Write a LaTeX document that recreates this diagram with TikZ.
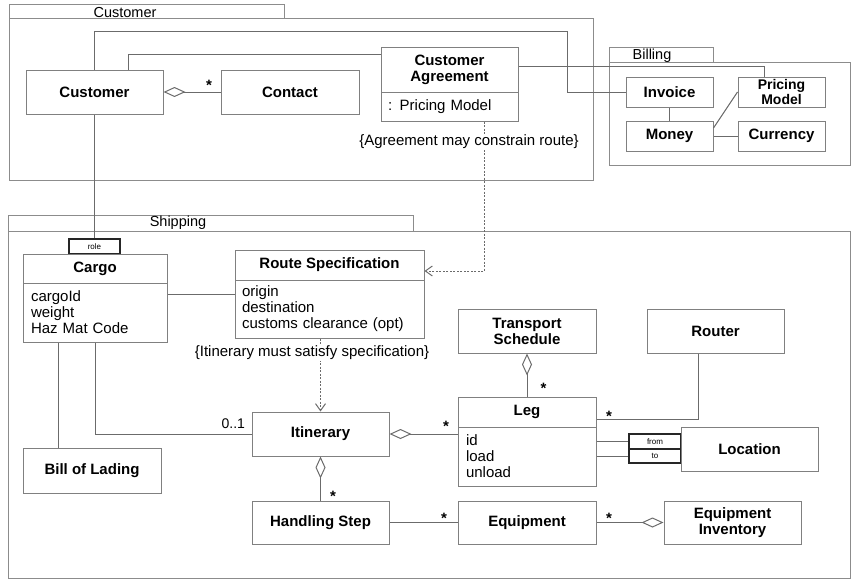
\documentclass[tikz,border=0pt]{standalone}
\usepackage{fontspec}
\setmainfont{Liberation Sans}
\usetikzlibrary{arrows.meta,positioning}
\definecolor{linegray}{gray}{0.42}
\definecolor{boxgray}{gray}{0.5}
\definecolor{pkggray}{gray}{0.55}

\begin{document}
\begin{tikzpicture}[x=1pt, y=-1pt,
      >={Straight Barb[length=7pt, width=10pt]},
      class/.style={
        draw=boxgray,
        fill=white,
        line width=1pt,
        font=\fontsize{15}{16}\selectfont\bfseries,
        align=center,
        inner sep=0pt
      },
      attrs/.style={
        draw=boxgray,
        fill=white,
        line width=1pt,
        font=\fontsize{15}{16}\selectfont,
        align=left,
        inner ysep=0pt
      },
      qualifier/.style={
        draw=black!85,
        fill=white,
        line width=1.4pt,
        font=\fontsize{8}{8}\selectfont,
        minimum width=52pt,
        inner sep=0pt
      },
      package/.style={draw=pkggray, line width=1pt},
      assoc/.style={draw=linegray, line width=1pt},
      aggregation/.style={
        assoc,
        -{Diamond[open, length=22pt, width=10pt]}
      },
      dependency/.style={
        ->,
        draw=linegray,
        line width=1pt,
        dash pattern=on 2pt off 1.5pt
      },
      note/.style={fill=white, font=\fontsize{15}{16}\selectfont, inner sep=1pt},
      mult/.style={font=\fontsize{14}{14}\selectfont, inner sep=0pt},
      star/.style={mult, font=\fontsize{15}{15}\selectfont\bfseries},
      tablabel/.style={font=\fontsize{14.5}{14.5}\selectfont, inner sep=0pt},
    ]

    \useasboundingbox (0, 0) rectangle (858, 586);

    % packages
    \draw [package] (9, 5) rectangle (284, 19);
    \draw [package] (9, 19) rectangle (593, 180);
    \node [tablabel] (customerpkg) at (125, 12.5) {Customer};

    \draw [package] (609, 48) rectangle (713, 62);
    \draw [package] (609, 62) rectangle (850, 165);
    \node [tablabel] (billingpkg) at (652, 55.5) {Billing};

    \draw [package] (8, 215) rectangle (413, 231);
    \draw [package] (8, 231) rectangle (850, 578);
    \node [tablabel] (shippingpkg) at (178, 223) {Shipping};

    % customer
    \node [class, minimum width=137pt, minimum height=44pt] (customer) at (94.5, 92) {Customer};
    \node [class, minimum width=138pt, minimum height=44pt] (contact) at (290, 92) {Contact};
    \node [class, minimum width=137pt, minimum height=44pt] (agreement) at (449.5, 70) {Customer\\Agreement};
    \node [attrs, minimum width=137pt, minimum height=29pt, text width=123pt, inner xsep=7pt]
          (agreementattr) at (449.5, 106.5) {: Pricing Model};

    % billing
    \node [class, minimum width=87pt, minimum height=30pt] (invoice) at (669.5, 92) {Invoice};
    \node [class, minimum width=87pt, minimum height=30pt, font=\fontsize{14}{13}\selectfont\bfseries]
          (pricing) at (781.5, 92) {Pricing\\Model};
    \node [class, minimum width=87pt, minimum height=30pt] (money) at (669.5, 136) {Money};
    \node [class, minimum width=87pt, minimum height=30pt] (currency) at (781.5, 136) {Currency};

    % shipping
    \node [qualifier, minimum width=51pt, minimum height=15pt] (role) at (94.5, 246.5) {role};
    \node [class, minimum width=144pt, minimum height=29pt] (cargo) at (95, 268.5) {Cargo};
    \node [attrs, minimum width=144pt, minimum height=59pt, text width=128pt, inner xsep=8pt]
          (cargoattr) at (95, 312.5) {cargoId\\weight\\Haz Mat Code};
    \node [class, minimum width=189pt, minimum height=30pt] (route) at (329.5, 265) {Route Specification};
    \node [attrs, minimum width=189pt, minimum height=58pt, text width=175pt, inner xsep=7pt]
          (routeattr) at (329.5, 309) {origin\\destination\\customs clearance (opt)};
    \node [class, minimum width=138pt, minimum height=44pt] (transport) at (527, 331) {Transport\\Schedule};
    \node [class, minimum width=137pt, minimum height=44pt] (router) at (715.5, 331) {Router};
    \node [class, minimum width=138pt, minimum height=30pt] (leg) at (527, 412) {Leg};
    \node [attrs, minimum width=138pt, minimum height=59pt, text width=122pt, inner xsep=8pt]
          (legattr) at (527, 456.5) {id\\load\\unload};
    \node [qualifier, minimum height=15pt] (from) at (655, 441.5) {from};
    \node [qualifier, minimum height=14pt] (to) at (655, 456) {to};
    \node [class, minimum width=137pt, minimum height=44pt] (location) at (749.5, 449) {Location};
    \node [class, minimum width=137pt, minimum height=44pt] (itinerary) at (320.5, 434) {Itinerary};
    \node [class, minimum width=138pt, minimum height=45pt] (lading) at (92, 470.5) {Bill of Lading};
    \node [class, minimum width=137pt, minimum height=43pt] (handling) at (320.5, 522.5) {Handling Step};
    \node [class, minimum width=138pt, minimum height=43pt] (equipment) at (527, 522.5) {Equipment};
    \node [class, minimum width=137pt, minimum height=43pt] (inventory) at (732.5, 522.5) {Equipment\\Inventory};

    \coordinate (overbend) at (567, 32);

    \draw [aggregation] (contact.west) -- (customer.east)
          node [star, pos=0.2, above=1pt] (contactmult) {*};
    \draw [assoc] ([xshift=34pt]customer.north) |- ([yshift=15.5pt]agreement.west);
    \draw [assoc] (customer.north) |- (overbend) |- (invoice.west);
    \draw [assoc] ([yshift=4pt]agreement.east) -| ([xshift=-17pt]pricing.north);
    \draw [assoc] (invoice) -- (money);
    \draw [assoc] (money) -- (currency);
    \draw [assoc] ([yshift=8pt]money.east) -- (pricing.west);

    \draw [assoc] (customer.south) -- (role.north);
    \draw [assoc] (cargoattr.east |- 0, 294) -- (routeattr.west |- 0, 294);
    \draw [assoc] (cargoattr.south -| 58, 0) -- (lading.north -| 58, 0);
    \draw [assoc] (cargoattr.south) |- (itinerary.west)
          node [mult, pos=1, above left=5pt and 6pt] (itinmult) {0..1};
    \draw [aggregation] (legattr.west |- itinerary.east) -- (itinerary.east)
          node [star, pos=0, above left=2pt and 8pt] (legmult) {*};
    \draw [aggregation] (handling.north) -- (itinerary.south)
          node [star, pos=0, above right=-1pt and 9pt] (stepmult) {*};
    \draw [aggregation] (leg.north) -- (transport.south)
          node [star, pos=0, above right=3pt and 13pt] (schedmult) {*};
    \draw [assoc] ([xshift=-17.5pt]router.south) |- ([yshift=-7pt]leg.east)
          node [star, pos=1, above right=-3pt and 9pt] (routermult) {*};
    \draw [assoc] (legattr.east |- from) -- (from.west);
    \draw [assoc] (legattr.east |- to) -- (to.west);
    \draw [assoc] (handling) -- (equipment)
          node [star, pos=1, above left=-1pt and 10pt] (equipmult) {*};
    \draw [aggregation] (equipment) -- (inventory)
          node [star, pos=0, above right=-1pt and 9pt] (inventmult) {*};

    \draw [dependency] ([xshift=34.5pt]agreementattr.south) |- ([yshift=-6pt]route.east);
    \draw [dependency] (routeattr.south -| itinerary.north) -- (itinerary.north);

    \node [note] (constrain) at (469, 142) {\{Agreement may constrain route\}};
    \node [note] (satisfy) at (312, 353) {\{Itinerary must satisfy specification\}};
\end{tikzpicture}
\end{document}
